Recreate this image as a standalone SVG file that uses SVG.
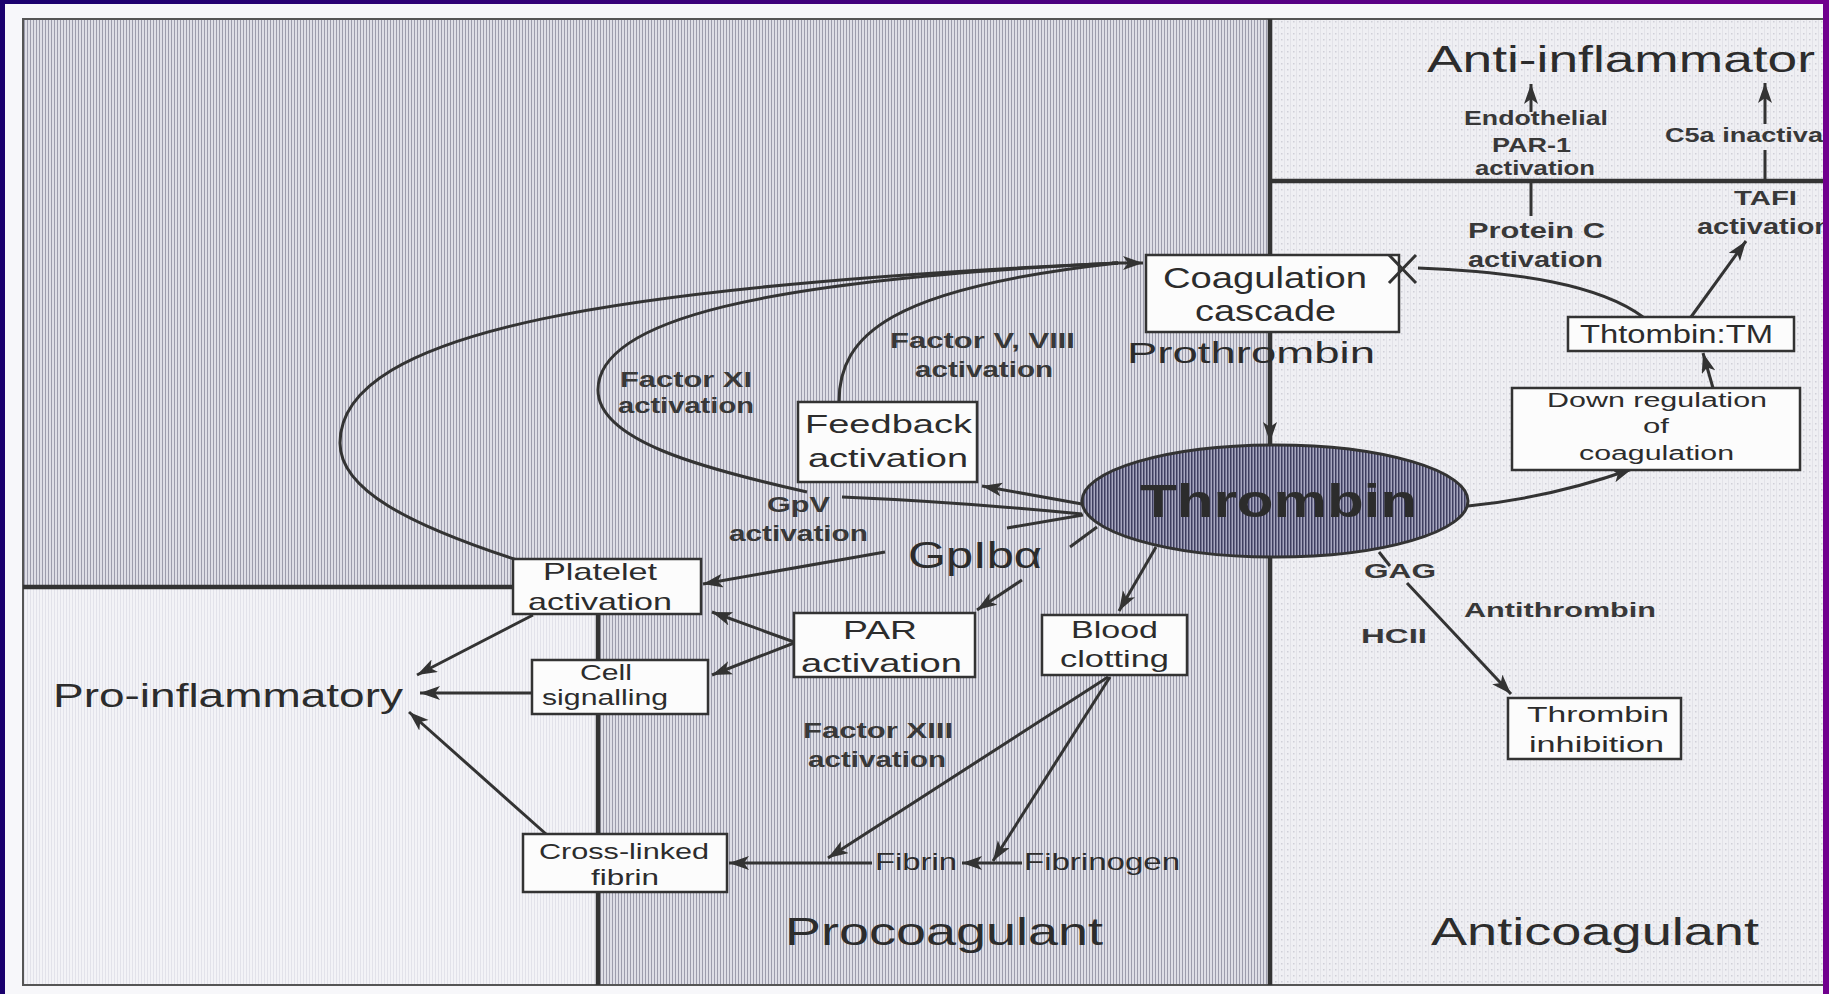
<svg xmlns="http://www.w3.org/2000/svg" width="1829" height="994" viewBox="0 0 1829 994">
<defs>
  <linearGradient id="brd" x1="0" y1="0" x2="1" y2="0">
    <stop offset="0" stop-color="#1a006e"/>
    <stop offset="1" stop-color="#70008e"/>
  </linearGradient>
  <pattern id="hatch" width="3" height="3" patternUnits="userSpaceOnUse">
    <rect width="3" height="3" fill="#dedee6"/>
    <rect width="1" height="3" fill="#9c9cac"/>
  </pattern>
  <pattern id="pale" width="3" height="3" patternUnits="userSpaceOnUse">
    <rect width="3" height="3" fill="#f3f3f7"/>
    <rect width="1" height="3" fill="#e2e2ea"/>
  </pattern>
  <pattern id="dots" width="6" height="6" patternUnits="userSpaceOnUse">
    <rect width="6" height="6" fill="#efeff3"/>
    <rect width="1" height="6" fill="#e2e2e8"/>
    <rect x="3" y="3" width="1.5" height="1.5" fill="#cfcfd8"/>
  </pattern>
  <pattern id="dark" width="3" height="3" patternUnits="userSpaceOnUse">
    <rect width="3" height="3" fill="#a8a8c0"/>
    <rect width="1.5" height="3" fill="#3e3e60"/>
  </pattern>
  <marker id="ah" markerUnits="userSpaceOnUse" markerWidth="22" markerHeight="16" refX="20" refY="7" orient="auto">
    <path d="M0,0 L20,7 L0,14 L5,7 z" fill="#333"/>
  </marker>
  <style>
    .box{fill:#fcfcfc;stroke:#333;stroke-width:2.5}
    .ln{fill:none;stroke:#333;stroke-width:3}
    .ar{fill:none;stroke:#333;stroke-width:3;marker-end:url(#ah)}
    .div{fill:none;stroke:#333;stroke-width:4.5}
    .t{font-family:"Liberation Sans",Arial,sans-serif;fill:#2c2c2c}
    .b{font-weight:bold;fill:#383838}
  </style>
</defs>

<!-- frame -->
<rect x="0" y="0" width="1829" height="994" fill="url(#brd)"/>
<rect x="5" y="4" width="1818" height="990" fill="#f7f7fa"/>

<g id="regions">
  <polygon points="23,19 1270,19 1270,985 598,985 598,587 23,587" fill="url(#hatch)"/>
  <rect x="23" y="587" width="575" height="398" fill="url(#pale)"/>
  <rect x="1270" y="19" width="553" height="162" fill="url(#dots)"/>
  <rect x="1270" y="181" width="553" height="804" fill="url(#dots)"/>
  <rect x="23" y="19" width="1810" height="966" fill="none" stroke="#555" stroke-width="2"/>
  <line class="div" x1="1270" y1="19" x2="1270" y2="985"/>
  <line class="div" x1="1270" y1="181" x2="1823" y2="181"/>
  <line class="div" x1="23" y1="587" x2="515" y2="587" stroke-width="3.5"/>
  <line class="div" x1="598" y1="614" x2="598" y2="985"/>
</g>

<g id="connectors">
  <!-- loops into coagulation cascade -->
  <path class="ln" d="M517,560 C410,525 340,490 340,443 C340,330 620,285 1118,263"/>
  <path class="ln" d="M1082,514 Q960,502 842,497"/>
  <path class="ln" d="M807,492 C700,468 598,440 598,390 C598,320 760,280 1118,263"/>
  <path class="ln" d="M839,402 C839,335 890,288 1118,263"/>
  <path class="ar" d="M1112,263 L1143,263"/>
  <!-- thrombin outputs -->
  <path class="ar" d="M1082,504 L982,486"/>
  <path class="ln" d="M1083,515 L1007,528"/>
  <path class="ar" d="M885,552 L703,584"/>
  <path class="ln" d="M1097,527 L1070,547"/>
  <path class="ar" d="M1022,580 L977,610"/>
  <path class="ar" d="M1156,547 L1119,611"/>
  <path class="ar" d="M1108,677 L828,858"/>
  <path class="ar" d="M1110,677 L993,861"/>
  <path class="ar" d="M1022,863 L962,863"/>
  <path class="ar" d="M872,863 L729,863"/>
  <path class="ar" d="M546,834 L409,712"/>
  <path class="ar" d="M532,693 L420,693"/>
  <path class="ar" d="M533,615 L417,675"/>
  <path class="ar" d="M794,642 L712,612"/>
  <path class="ar" d="M794,643 L712,675"/>
  <path class="ar" d="M1270,372 L1270,442"/>
  <!-- anticoagulant side -->
  <path class="ar" d="M1468,506 Q1550,498 1632,469"/>
  <path class="ar" d="M1713,388 L1703,353"/>
  <path class="ar" d="M1691,317 L1746,241"/>
  <path class="ln" d="M1643,317 C1600,285 1520,272 1418,268"/>
  <path class="ln" d="M1379,552 L1390,566"/>
  <path class="ar" d="M1407,583 L1511,694"/>
  <path class="ln" stroke-width="4" d="M1531,182 L1531,216"/>
  <path class="ar" stroke-width="4" d="M1531,112 L1531,84"/>
  <path class="ln" stroke-width="4" d="M1765,150 L1765,181"/>
  <path class="ar" stroke-width="4" d="M1765,124 L1765,83"/>
</g>

<g id="thrombin">
  <ellipse cx="1275" cy="501" rx="193" ry="56" fill="url(#dark)" stroke="#333" stroke-width="3"/>
  <text class="t" x="1140" y="517" font-size="47" font-weight="bold" fill="#1e1e2a" textLength="277" lengthAdjust="spacingAndGlyphs">Thrombin</text>
</g>

<g id="coagulation-cascade">
  <rect class="box" x="1146" y="255" width="253" height="77"/>
  <text class="t" x="1163" y="288" font-size="29" textLength="204" lengthAdjust="spacingAndGlyphs">Coagulation</text>
  <text class="t" x="1195" y="321" font-size="29" textLength="141" lengthAdjust="spacingAndGlyphs">cascade</text>
</g>
<g id="inhibition-mark">
  <path class="ln" stroke-width="5" d="M1389,255 L1416,283 M1389,283 L1416,255"/>
</g>
<g id="prothrombin">
  <text class="t" x="1127" y="363" font-size="30" textLength="248" lengthAdjust="spacingAndGlyphs">Prothrombin</text>
</g>

<g id="feedback">
  <rect class="box" x="798" y="402" width="179" height="80"/>
  <text class="t" x="805" y="433" font-size="25" textLength="167" lengthAdjust="spacingAndGlyphs">Feedback</text>
  <text class="t" x="808" y="467" font-size="25" textLength="160" lengthAdjust="spacingAndGlyphs">activation</text>
</g>

<g id="platelet">
  <rect class="box" x="513" y="559" width="188" height="55"/>
  <text class="t" x="543" y="580" font-size="24" textLength="114" lengthAdjust="spacingAndGlyphs">Platelet</text>
  <text class="t" x="528" y="610" font-size="24" textLength="144" lengthAdjust="spacingAndGlyphs">activation</text>
</g>

<g id="cell-signalling">
  <rect class="box" x="532" y="660" width="176" height="54"/>
  <text class="t" x="580" y="680" font-size="22" textLength="52" lengthAdjust="spacingAndGlyphs">Cell</text>
  <text class="t" x="542" y="705" font-size="22" textLength="126" lengthAdjust="spacingAndGlyphs">signalling</text>
</g>

<g id="par">
  <rect class="box" x="794" y="613" width="181" height="64"/>
  <text class="t" x="843" y="639" font-size="25" textLength="74" lengthAdjust="spacingAndGlyphs">PAR</text>
  <text class="t" x="801" y="672" font-size="25" textLength="161" lengthAdjust="spacingAndGlyphs">activation</text>
</g>

<g id="blood-clotting">
  <rect class="box" x="1042" y="615" width="145" height="60"/>
  <text class="t" x="1071" y="638" font-size="24" textLength="87" lengthAdjust="spacingAndGlyphs">Blood</text>
  <text class="t" x="1060" y="667" font-size="24" textLength="109" lengthAdjust="spacingAndGlyphs">clotting</text>
</g>

<g id="cross-linked">
  <rect class="box" x="523" y="834" width="204" height="58"/>
  <text class="t" x="539" y="859" font-size="22" textLength="170" lengthAdjust="spacingAndGlyphs">Cross-linked</text>
  <text class="t" x="591" y="885" font-size="22" textLength="68" lengthAdjust="spacingAndGlyphs">fibrin</text>
</g>

<g id="thrombin-tm">
  <rect class="box" x="1568" y="317" width="226" height="34"/>
  <text class="t" x="1580" y="343" font-size="25" textLength="193" lengthAdjust="spacingAndGlyphs">Thtombin:TM</text>
</g>

<g id="down-regulation">
  <rect class="box" x="1512" y="388" width="288" height="82"/>
  <text class="t" x="1547" y="407" font-size="20" textLength="220" lengthAdjust="spacingAndGlyphs">Down regulation</text>
  <text class="t" x="1643" y="433" font-size="20" textLength="26" lengthAdjust="spacingAndGlyphs">of</text>
  <text class="t" x="1579" y="460" font-size="20" textLength="155" lengthAdjust="spacingAndGlyphs">coagulation</text>
</g>

<g id="thrombin-inhibition">
  <rect class="box" x="1508" y="698" width="173" height="61"/>
  <text class="t" x="1527" y="722" font-size="22" textLength="142" lengthAdjust="spacingAndGlyphs">Thrombin</text>
  <text class="t" x="1529" y="752" font-size="22" textLength="135" lengthAdjust="spacingAndGlyphs">inhibition</text>
</g>

<g id="labels">
  <text class="t" x="1427" y="72" font-size="36" textLength="388" lengthAdjust="spacingAndGlyphs">Anti-inflammator</text>
  <text class="t b" x="1464" y="125" font-size="21" textLength="144" lengthAdjust="spacingAndGlyphs">Endothelial</text>
  <text class="t b" x="1492" y="152" font-size="21" textLength="79" lengthAdjust="spacingAndGlyphs">PAR-1</text>
  <text class="t b" x="1475" y="175" font-size="21" textLength="120" lengthAdjust="spacingAndGlyphs">activation</text>
  <text class="t b" x="1665" y="142" font-size="21" textLength="158" lengthAdjust="spacingAndGlyphs">C5a inactiva</text>
  <text class="t b" x="1734" y="205" font-size="21" textLength="63" lengthAdjust="spacingAndGlyphs">TAFI</text>
  <text class="t b" x="1697" y="234" font-size="22" textLength="135" lengthAdjust="spacingAndGlyphs">activation</text>
  <text class="t b" x="1468" y="238" font-size="22" textLength="137" lengthAdjust="spacingAndGlyphs">Protein C</text>
  <text class="t b" x="1468" y="267" font-size="22" textLength="135" lengthAdjust="spacingAndGlyphs">activation</text>
  <text class="t b" x="1364" y="578" font-size="21" textLength="72" lengthAdjust="spacingAndGlyphs">GAG</text>
  <text class="t b" x="1464" y="617" font-size="21" textLength="192" lengthAdjust="spacingAndGlyphs">Antithrombin</text>
  <text class="t b" x="1361" y="643" font-size="21" textLength="66" lengthAdjust="spacingAndGlyphs">HCII</text>
  <text class="t" x="1431" y="945" font-size="39" textLength="328" lengthAdjust="spacingAndGlyphs">Anticoagulant</text>
  <text class="t" x="785" y="945" font-size="39" textLength="318" lengthAdjust="spacingAndGlyphs">Procoagulant</text>
  <text class="t" x="1024" y="870" font-size="24" textLength="156" lengthAdjust="spacingAndGlyphs">Fibrinogen</text>
  <text class="t" x="875" y="870" font-size="24" textLength="82" lengthAdjust="spacingAndGlyphs">Fibrin</text>
  <text class="t b" x="803" y="738" font-size="22" textLength="150" lengthAdjust="spacingAndGlyphs">Factor XIII</text>
  <text class="t b" x="808" y="767" font-size="22" textLength="138" lengthAdjust="spacingAndGlyphs">activation</text>
  <text class="t" x="908" y="568" font-size="36" textLength="134" lengthAdjust="spacingAndGlyphs">GpIbα</text>
  <text class="t b" x="767" y="512" font-size="22" textLength="63" lengthAdjust="spacingAndGlyphs">GpV</text>
  <text class="t b" x="729" y="541" font-size="22" textLength="139" lengthAdjust="spacingAndGlyphs">activation</text>
  <text class="t" x="53" y="707" font-size="33" textLength="350" lengthAdjust="spacingAndGlyphs">Pro-inflammatory</text>
  <text class="t b" x="620" y="387" font-size="22" textLength="132" lengthAdjust="spacingAndGlyphs">Factor XI</text>
  <text class="t b" x="618" y="413" font-size="22" textLength="136" lengthAdjust="spacingAndGlyphs">activation</text>
  <text class="t b" x="890" y="348" font-size="22" textLength="185" lengthAdjust="spacingAndGlyphs">Factor V, VIII</text>
  <text class="t b" x="915" y="377" font-size="22" textLength="138" lengthAdjust="spacingAndGlyphs">activation</text>
</g>

<!-- right border over clipped text -->
<rect x="1823" y="0" width="6" height="994" fill="#70008e"/>
</svg>
